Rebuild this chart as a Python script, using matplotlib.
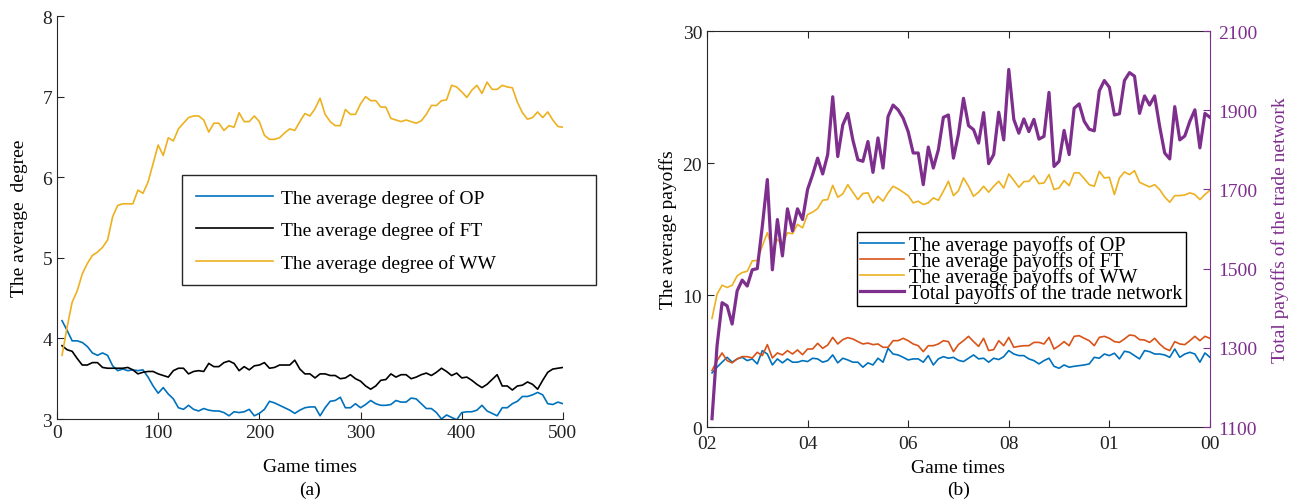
import numpy as np
import matplotlib
matplotlib.use("Agg")
import matplotlib.pyplot as plt

plt.rcParams['font.family'] = ['Liberation Serif', 'DejaVu Serif']
plt.rcParams['mathtext.fontset'] = 'stix'

# ---- (a) average degree ----
game_times_a = np.arange(5, 505, 5)

deg_op = [4.22, 4.10, 3.97, 3.97, 3.95, 3.90, 3.82, 3.79, 3.82, 3.79,
          3.66, 3.60, 3.62, 3.60, 3.61, 3.60, 3.61, 3.52, 3.41, 3.32,
          3.39, 3.31, 3.25, 3.14, 3.12, 3.17, 3.12, 3.10, 3.13, 3.11,
          3.10, 3.10, 3.08, 3.04, 3.09, 3.08, 3.09, 3.12, 3.04, 3.07,
          3.12, 3.22, 3.20, 3.17, 3.14, 3.11, 3.07, 3.11, 3.14, 3.15,
          3.15, 3.04, 3.14, 3.22, 3.23, 3.27, 3.14, 3.14, 3.19, 3.14,
          3.18, 3.23, 3.19, 3.17, 3.17, 3.18, 3.23, 3.21, 3.21, 3.26,
          3.25, 3.19, 3.13, 3.13, 3.08, 3.00, 3.05, 3.02, 2.99, 3.08,
          3.09, 3.09, 3.11, 3.17, 3.10, 3.07, 3.04, 3.14, 3.14, 3.19,
          3.22, 3.28, 3.28, 3.30, 3.33, 3.30, 3.19, 3.18, 3.21, 3.19]

deg_ft = [3.91, 3.86, 3.84, 3.75, 3.67, 3.67, 3.70, 3.70, 3.64, 3.63,
          3.63, 3.63, 3.63, 3.64, 3.61, 3.56, 3.58, 3.59, 3.59, 3.56,
          3.54, 3.52, 3.60, 3.63, 3.63, 3.56, 3.59, 3.60, 3.59, 3.69,
          3.65, 3.65, 3.70, 3.72, 3.69, 3.60, 3.65, 3.61, 3.66, 3.67,
          3.70, 3.63, 3.64, 3.67, 3.67, 3.67, 3.73, 3.62, 3.56, 3.56,
          3.51, 3.56, 3.56, 3.54, 3.54, 3.50, 3.51, 3.55, 3.50, 3.47,
          3.41, 3.37, 3.41, 3.48, 3.49, 3.56, 3.52, 3.55, 3.55, 3.50,
          3.52, 3.55, 3.57, 3.54, 3.58, 3.63, 3.59, 3.54, 3.57, 3.51,
          3.52, 3.48, 3.43, 3.39, 3.43, 3.49, 3.55, 3.41, 3.41, 3.36,
          3.41, 3.42, 3.46, 3.43, 3.37, 3.48, 3.58, 3.62, 3.63, 3.64]

deg_ww = [3.79, 4.14, 4.45, 4.59, 4.80, 4.93, 5.03, 5.07, 5.13, 5.22,
          5.51, 5.65, 5.67, 5.67, 5.67, 5.84, 5.80, 5.94, 6.17, 6.40,
          6.27, 6.49, 6.45, 6.60, 6.67, 6.74, 6.76, 6.76, 6.71, 6.56,
          6.67, 6.67, 6.58, 6.64, 6.62, 6.80, 6.69, 6.69, 6.76, 6.69,
          6.52, 6.47, 6.47, 6.49, 6.55, 6.60, 6.58, 6.69, 6.79, 6.76,
          6.85, 6.98, 6.78, 6.69, 6.64, 6.64, 6.84, 6.78, 6.78, 6.91,
          7.00, 6.95, 6.95, 6.87, 6.87, 6.73, 6.71, 6.69, 6.71, 6.69,
          6.67, 6.70, 6.78, 6.89, 6.89, 6.95, 6.96, 7.14, 7.12, 7.06,
          6.99, 7.08, 7.14, 7.04, 7.18, 7.09, 7.09, 7.14, 7.12, 7.11,
          6.93, 6.80, 6.72, 6.74, 6.81, 6.74, 6.81, 6.71, 6.63, 6.62]

# ---- (b) payoffs ----
game_times_b = np.arange(1, 101)
b_tick_pos = [0, 20, 40, 60, 80, 100]
b_tick_labels = ['02', '04', '06', '08', '01', '00']

pay_op = [4.10, 4.53, 4.91, 5.28, 4.91, 5.16, 5.28, 5.03, 5.16, 4.78,
          5.79, 5.53, 4.70, 5.16, 4.86, 5.16, 4.91, 4.91, 5.03, 4.96,
          5.21, 5.16, 4.91, 5.03, 5.46, 4.86, 5.21, 5.08, 4.91, 4.91,
          4.53, 4.86, 4.70, 5.21, 4.91, 5.96, 5.53, 5.46, 5.28, 5.08,
          5.16, 5.16, 4.91, 5.41, 4.70, 5.16, 5.33, 5.21, 5.28, 5.05,
          4.96, 5.21, 5.46, 5.16, 5.21, 4.91, 5.21, 5.11, 5.33, 5.79,
          5.53, 5.41, 5.41, 5.16, 5.03, 4.78, 5.03, 5.21, 4.60, 4.45,
          4.70, 4.53, 4.60, 4.65, 4.70, 4.78, 5.28, 5.21, 5.53, 5.41,
          5.59, 5.16, 5.74, 5.66, 5.41, 5.16, 5.79, 5.71, 5.53, 5.53,
          5.46, 5.28, 5.91, 5.28, 5.53, 5.66, 5.53, 4.91, 5.61, 5.28]

pay_ft = [4.28, 5.03, 5.61, 5.03, 4.86, 5.16, 5.33, 5.33, 5.23, 5.66,
          5.41, 6.24, 5.23, 5.61, 5.46, 5.79, 5.53, 5.84, 5.48, 5.91,
          5.91, 6.34, 5.96, 6.21, 6.79, 6.29, 6.62, 6.77, 6.67, 6.47,
          6.29, 6.36, 6.24, 6.29, 6.04, 6.04, 6.54, 6.54, 6.72, 6.54,
          6.29, 6.16, 5.71, 6.16, 6.16, 6.29, 6.54, 6.47, 5.71, 6.25,
          6.54, 6.87, 6.47, 6.11, 6.72, 5.79, 5.86, 6.54, 6.16, 6.79,
          6.04, 6.11, 6.16, 6.16, 6.41, 6.41, 6.29, 6.79, 5.91, 6.16,
          6.47, 6.16, 6.87, 6.92, 6.72, 6.54, 6.16, 6.79, 6.87, 6.72,
          6.47, 6.41, 6.67, 6.97, 6.92, 6.62, 6.59, 6.41, 6.72, 6.29,
          5.96, 5.79, 6.47, 6.29, 6.24, 6.54, 6.87, 6.54, 6.87, 6.72]

pay_ww = [8.23, 10.06, 10.74, 10.57, 10.74, 11.45, 11.70, 11.80, 12.58, 12.63,
          13.71, 14.72, 13.46, 14.21, 13.84, 14.72, 14.64, 15.35, 15.09, 16.10,
          16.28, 16.55, 17.18, 17.23, 18.31, 17.41, 17.66, 18.36, 17.79, 17.23,
          17.69, 17.74, 16.98, 17.48, 17.11, 17.74, 18.24, 18.04, 17.79, 17.53,
          16.98, 17.11, 16.86, 16.98, 17.36, 17.18, 17.86, 18.62, 17.53, 17.90,
          18.87, 18.24, 17.48, 17.79, 18.24, 17.79, 18.24, 18.62, 18.11, 19.17,
          18.69, 18.16, 18.59, 18.62, 19.04, 18.44, 18.49, 19.12, 17.99, 18.11,
          18.67, 18.29, 19.25, 19.25, 18.82, 18.36, 18.24, 19.37, 18.87, 18.92,
          17.61, 18.87, 19.32, 19.12, 19.42, 18.54, 18.36, 18.19, 18.36, 17.99,
          17.43, 17.03, 17.53, 17.53, 17.58, 17.74, 17.61, 17.23, 17.61, 17.94]

pay_total = [1121, 1305, 1414, 1406, 1360, 1444, 1471, 1456, 1497, 1500,
             1607, 1725, 1497, 1624, 1532, 1651, 1595, 1651, 1624, 1700,
             1737, 1779, 1739, 1788, 1934, 1783, 1863, 1892, 1825, 1775,
             1771, 1821, 1743, 1830, 1754, 1884, 1913, 1901, 1880, 1846,
             1792, 1792, 1712, 1807, 1754, 1800, 1882, 1888, 1779, 1840,
             1930, 1861, 1851, 1817, 1894, 1765, 1788, 1895, 1825, 2003,
             1877, 1842, 1878, 1846, 1877, 1827, 1834, 1945, 1758, 1771,
             1849, 1788, 1905, 1916, 1872, 1852, 1848, 1949, 1975, 1958,
             1888, 1891, 1975, 1995, 1986, 1892, 1936, 1913, 1936, 1859,
             1792, 1777, 1909, 1825, 1835, 1872, 1901, 1805, 1892, 1882]

c_blue = '#0072BD'
c_red = '#D95319'
c_gold = '#EDB120'
c_purple = '#7E2F8E'
c_axis = '#262626'
fs = 14

fig = plt.figure(figsize=(12.92, 5.02), dpi=100)

# ---------------- (a) ----------------
ax1 = fig.add_axes([0.0441, 0.1633, 0.3916, 0.8028])
ax1.plot(game_times_a, deg_op, color=c_blue, lw=1.2, label='The average degree of OP')
ax1.plot(game_times_a, deg_ft, color='black', lw=1.2, label='The average degree of FT')
ax1.plot(game_times_a, deg_ww, color=c_gold, lw=1.2, label='The average degree of WW')
ax1.set_xlim(0, 500)
ax1.set_ylim(3, 8)
ax1.set_xticks([0, 100, 200, 300, 400, 500])
ax1.set_yticks([3, 4, 5, 6, 7, 8])
ax1.spines['top'].set_visible(False)
ax1.spines['right'].set_visible(False)
for s in ['left', 'bottom']:
    ax1.spines[s].set_color(c_axis)
ax1.tick_params(direction='in', length=5, labelsize=fs, colors=c_axis, labelcolor='#222222')
ax1.set_xlabel('Game times', fontsize=fs, labelpad=12)
ax1.set_ylabel('The average  degree', fontsize=fs, labelpad=10)
leg1 = ax1.legend(loc='upper left', bbox_to_anchor=(0.247, 0.34, 0.818, 0.265),
                  mode='expand', borderaxespad=0, fontsize=fs, handlelength=4.0,
                  handletextpad=0.4, labelspacing=0.75, fancybox=False,
                  edgecolor=c_axis, framealpha=1, borderpad=0.7)
leg1.get_frame().set_linewidth(1.0)
fig.text(0.2398, 0.024, '(a)', ha='center', va='center', fontsize=fs)

# ---------------- (b) ----------------
ax2 = fig.add_axes([0.5472, 0.1474, 0.3893, 0.7888])
l1, = ax2.plot(game_times_b, pay_op, color=c_blue, lw=1.2, label='The average payoffs of OP')
l2, = ax2.plot(game_times_b, pay_ft, color=c_red, lw=1.2, label='The average payoffs of FT')
l3, = ax2.plot(game_times_b, pay_ww, color=c_gold, lw=1.2, label='The average payoffs of WW')
ax2.set_xlim(0, 100)
ax2.set_ylim(0, 30)
ax2.set_xticks(b_tick_pos)
ax2.set_xticklabels(b_tick_labels)
ax2.set_yticks([0, 10, 20, 30])
ax2.tick_params(direction='in', length=5, labelsize=fs, colors=c_axis,
                labelcolor='#222222', top=True, right=False)
ax2.tick_params(axis='x', pad=6)
for s in ['left', 'bottom', 'top']:
    ax2.spines[s].set_color(c_axis)
ax2.spines['right'].set_visible(False)
ax2.set_xlabel('Game times', fontsize=fs, labelpad=5)
ax2.set_ylabel('The average payoffs', fontsize=fs, labelpad=4)

ax3 = ax2.twinx()
l4, = ax3.plot(game_times_b, pay_total, color=c_purple, lw=2.3,
               label='Total payoffs of the trade network')
ax3.set_ylim(1100, 2100)
ax3.set_yticks([1100, 1300, 1500, 1700, 1900, 2100])
ax3.spines['right'].set_color(c_purple)
for s in ['left', 'top', 'bottom']:
    ax3.spines[s].set_visible(False)
ax3.tick_params(direction='in', length=5, labelsize=fs, colors=c_purple, pad=6)
ax3.set_ylabel('Total payoffs of the trade network', fontsize=fs, color=c_purple, labelpad=10)
leg2 = ax3.legend(handles=[l1, l2, l3, l4], loc='upper left',
                  bbox_to_anchor=(0.298, 0.492), borderaxespad=0, fontsize=14.5,
                  handlelength=2.2, handletextpad=0.25, labelspacing=-0.2,
                  fancybox=False, edgecolor='black', framealpha=1, borderpad=0.15)
leg2.get_frame().set_linewidth(1.0)
fig.text(0.7417, 0.024, '(b)', ha='center', va='center', fontsize=fs)

fig.savefig('out.png', dpi=100)
